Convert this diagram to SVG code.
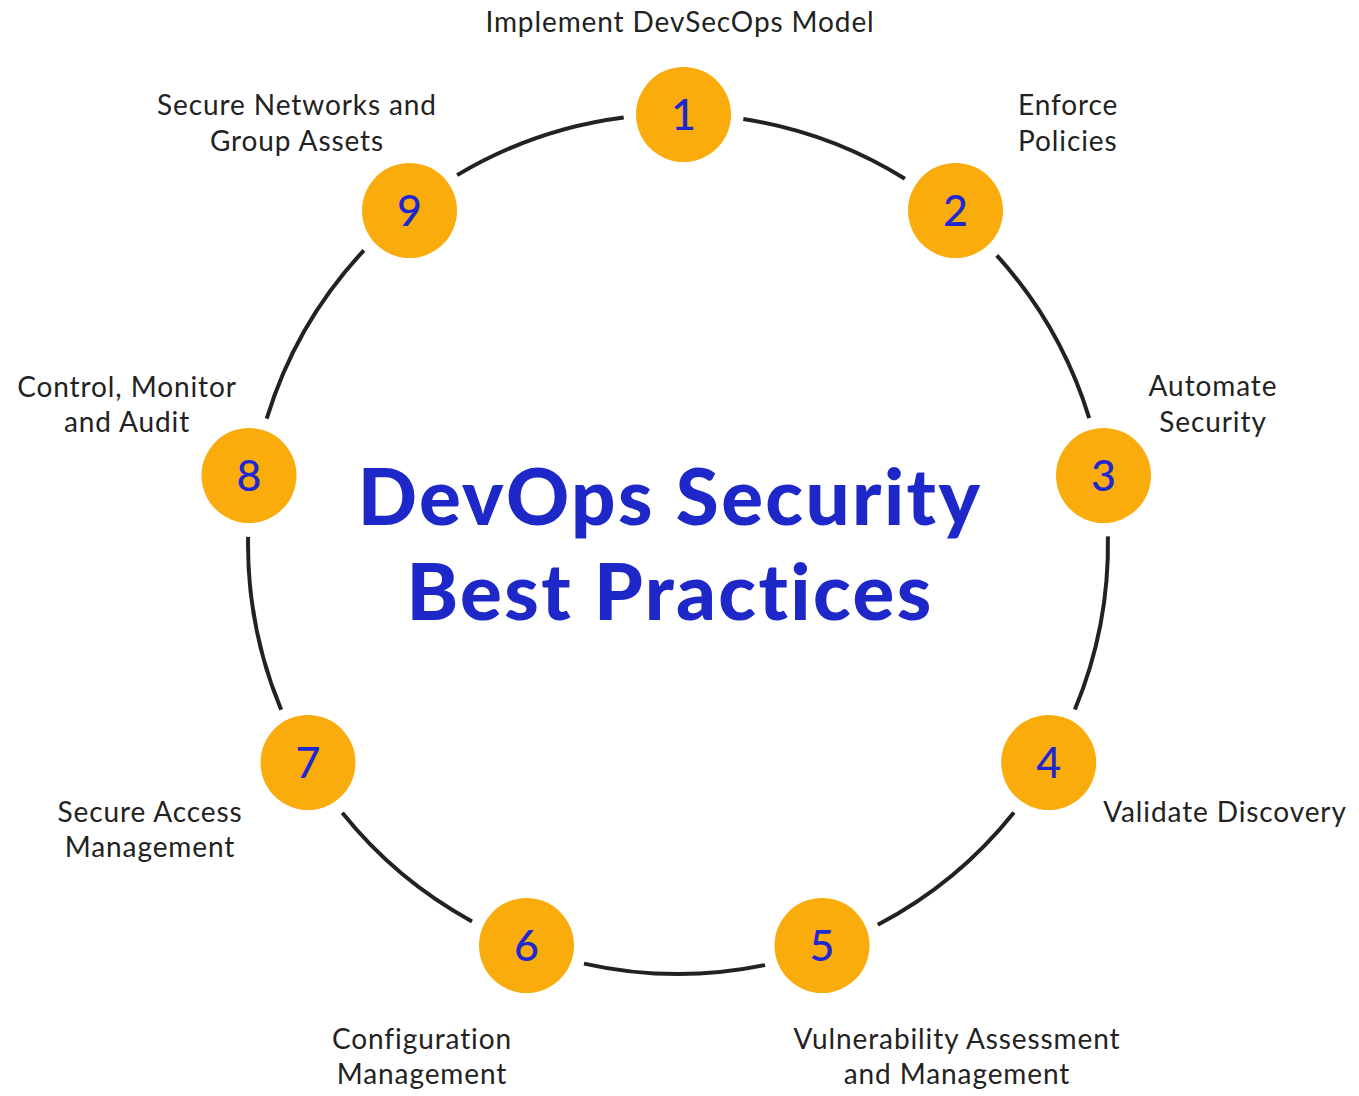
<svg xmlns="http://www.w3.org/2000/svg" width="1359" height="1096" viewBox="0 0 1359 1096">
  <style>
    .ring { fill: none; stroke: #222222; stroke-width: 4; }
    .dot { fill: #FAAC0C; }
    .num { font-family: "Lato", "Liberation Sans", sans-serif; font-size: 43px; font-weight: 500; fill: #1E28D2; text-anchor: middle; }
    .lbl { font-family: "Lato", "Liberation Sans", sans-serif; font-size: 28px; letter-spacing: 0.9px; fill: #222222; text-anchor: middle; }
    .lbl.left { text-anchor: start; }
    .title { font-family: "Lato", "Liberation Sans", sans-serif; font-size: 78px; font-weight: 900; letter-spacing: 2.4px; fill: #1E28C8; text-anchor: middle; }
  </style>
  <rect width="1359" height="1096" fill="#ffffff"/>

  <!-- ring segments between the numbered steps -->
  <g id="connectors">
    <path class="ring" d="M 743.3 119.0 A 430 430 0 0 1 904.9 178.8"/>
    <path class="ring" d="M 996.8 255.4 A 430 430 0 0 1 1089.2 418.2"/>
    <path class="ring" d="M 1107.9 536.4 A 430 430 0 0 1 1074.9 709.5"/>
    <path class="ring" d="M 1013.9 812.5 A 430 430 0 0 1 877.8 924.8"/>
    <path class="ring" d="M 765.1 965.1 A 430 430 0 0 1 584.0 963.6"/>
    <path class="ring" d="M 472.0 921.4 A 430 430 0 0 1 342.3 812.8"/>
    <path class="ring" d="M 281.2 709.8 A 430 430 0 0 1 248.1 536.9"/>
    <path class="ring" d="M 266.7 418.7 A 430 430 0 0 1 363.9 250.3"/>
    <path class="ring" d="M 457.1 175.1 A 430 430 0 0 1 623.7 117.4"/>
  </g>

  <g id="title">
    <text class="title" x="670" y="525">DevOps Security</text>
    <text class="title" x="670" y="620">Best Practices</text>
  </g>

  <g id="step1">
    <circle class="dot" cx="683.5" cy="114.5" r="47.5"/>
    <text class="num" x="683.5" y="129.5">1</text>
    <text class="lbl" x="680" y="32">Implement DevSecOps Model</text>
  </g>
  <g id="step2">
    <circle class="dot" cx="955.5" cy="210.5" r="47.5"/>
    <text class="num" x="955.5" y="225.5">2</text>
    <text class="lbl left" x="1018" y="115">Enforce</text>
    <text class="lbl left" x="1018" y="151">Policies</text>
  </g>
  <g id="step3">
    <circle class="dot" cx="1103.5" cy="475.5" r="47.5"/>
    <text class="num" x="1103.5" y="490.5">3</text>
    <text class="lbl" x="1213" y="396">Automate</text>
    <text class="lbl" x="1213" y="432">Security</text>
  </g>
  <g id="step4">
    <circle class="dot" cx="1048.7" cy="762.5" r="47.5"/>
    <text class="num" x="1048.7" y="777.5">4</text>
    <text class="lbl" x="1225" y="822">Validate Discovery</text>
  </g>
  <g id="step5">
    <circle class="dot" cx="822" cy="945.5" r="47.5"/>
    <text class="num" x="822" y="960.5">5</text>
    <text class="lbl" x="957" y="1049">Vulnerability Assessment</text>
    <text class="lbl" x="957" y="1084">and Management</text>
  </g>
  <g id="step6">
    <circle class="dot" cx="526.5" cy="945.5" r="47.5"/>
    <text class="num" x="526.5" y="960.5">6</text>
    <text class="lbl" x="422" y="1049">Configuration</text>
    <text class="lbl" x="422" y="1084">Management</text>
  </g>
  <g id="step7">
    <circle class="dot" cx="308" cy="762.5" r="47.5"/>
    <text class="num" x="308" y="777.5">7</text>
    <text class="lbl" x="150" y="822">Secure Access</text>
    <text class="lbl" x="150" y="857">Management</text>
  </g>
  <g id="step8">
    <circle class="dot" cx="249" cy="475.5" r="47.5"/>
    <text class="num" x="249" y="490.5">8</text>
    <text class="lbl" x="127" y="397">Control, Monitor</text>
    <text class="lbl" x="127" y="432">and Audit</text>
  </g>
  <g id="step9">
    <circle class="dot" cx="409.5" cy="210.5" r="47.5"/>
    <text class="num" x="409.5" y="225.5">9</text>
    <text class="lbl" x="297" y="115">Secure Networks and</text>
    <text class="lbl" x="297" y="151">Group Assets</text>
  </g>
</svg>
